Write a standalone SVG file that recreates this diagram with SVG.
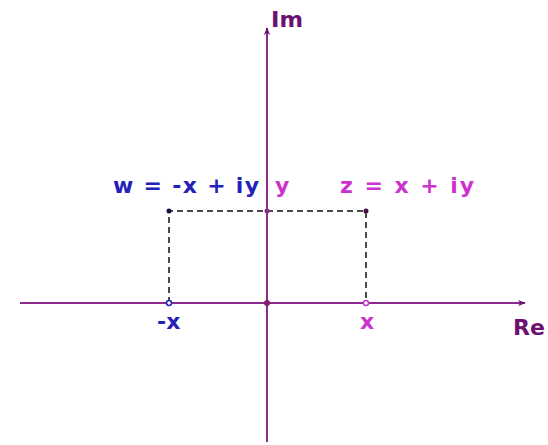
<svg xmlns="http://www.w3.org/2000/svg" width="548" height="445" viewBox="0 0 548 445">
<style>
.t{font-family:"DejaVu Sans","Liberation Sans",sans-serif;font-weight:bold;font-size:22px}
.blue{fill:#2222bb}
.mag{fill:#cc33cc}
.pur{fill:#6e1070}
.axis{stroke:#8a2a8a;stroke-width:2;fill:none}
.dash{stroke:#111;stroke-width:1.5;stroke-dasharray:6 4;fill:none}
</style>
<defs>
<marker id="ah" viewBox="0 0 10 10" refX="9" refY="5" markerWidth="8" markerHeight="8" markerUnits="userSpaceOnUse" orient="auto">
<path d="M0,1 L10,5 L0,9 L3,5 Z" fill="#6e1070"/>
</marker>
</defs>
<rect width="548" height="445" fill="#fff"/>
<g id="connectors">
<line class="axis" x1="20" y1="303" x2="525" y2="303" marker-end="url(#ah)"/>
<line class="axis" x1="267" y1="442" x2="267" y2="28" marker-end="url(#ah)"/>
<polyline class="dash" points="169,303 169,211 366,211 366,303"/>
</g>
<g id="axis-labels">
<text class="t pur" x="271" y="27" textLength="32" lengthAdjust="spacingAndGlyphs">Im</text>
<text class="t pur" x="513" y="335" textLength="32" lengthAdjust="spacingAndGlyphs">Re</text>
</g>
<g id="node-w">
<circle cx="169" cy="211" r="2.5" fill="#111144"/>
<text class="t blue" x="113" y="193" textLength="146" lengthAdjust="spacing">w = -x + iy</text>
</g>
<g id="node-y">
<circle cx="267" cy="211" r="2.5" fill="#8a2a8a"/>
<text class="t mag" x="275" y="193">y</text>
</g>
<g id="node-z">
<circle cx="366" cy="211" r="2.5" fill="#441144"/>
<text class="t mag" x="340" y="193" textLength="134" lengthAdjust="spacing">z = x + iy</text>
</g>
<g id="node-negx">
<circle cx="169" cy="303" r="2.5" fill="#fff" stroke="#2222bb" stroke-width="1.5"/>
<text class="t blue" x="157" y="329">-x</text>
</g>
<g id="node-origin">
<circle cx="267" cy="303" r="3" fill="#8a1a6a"/>
</g>
<g id="node-x">
<circle cx="366" cy="303" r="2.5" fill="#fff" stroke="#cc33cc" stroke-width="1.5"/>
<text class="t mag" x="360" y="329">x</text>
</g>
</svg>
